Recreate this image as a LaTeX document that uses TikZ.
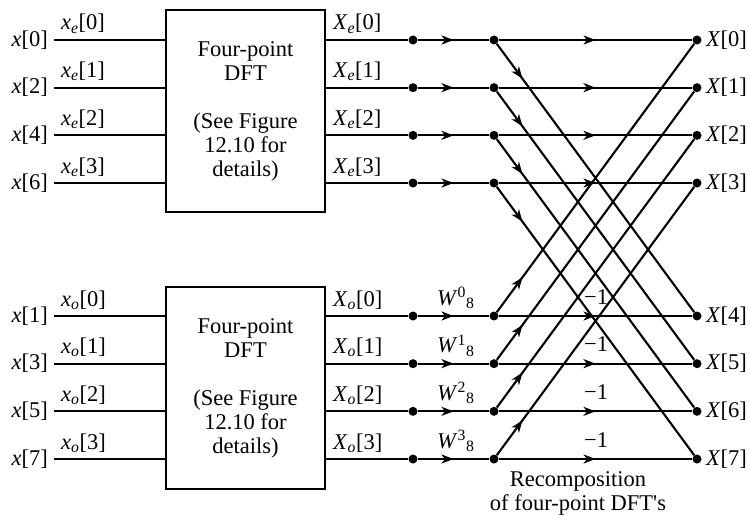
\documentclass[tikz,border=0pt]{standalone}
\usepackage{fontspec}
\setmainfont{Liberation Serif}
\usetikzlibrary{arrows.meta,decorations.markings}
\tikzset{
  sig/.style={line width=2.1pt},
  midarrow/.style={postaction={decorate},decoration={markings,mark=at position #1 with {\arrow{Stealth[length=12pt,width=9pt,inset=3.5pt]}}}},
  dot/.style={circle,fill=black,inner sep=0pt,minimum size=9pt},
  lbl/.style={inner sep=0pt,font=\fontsize{22.5}{24}\selectfont},
  dftbox/.style={draw,line width=1.1pt,minimum width=159pt,minimum height=202pt,align=center,inner sep=0pt,font=\fontsize{22.5}{24}\selectfont},
}
\begin{document}
\begin{tikzpicture}[x=1pt,y=-1pt]
\useasboundingbox (0,0) rectangle (750,516);
\node[dftbox] (E) at (245.5,111) {Four-point\\DFT\\[24pt](See Figure\\12.10 for\\details)};
\node[dftbox] (O) at (245.5,388) {Four-point\\DFT\\[24pt](See Figure\\12.10 for\\details)};
% even half
\foreach \k/\n in {0/0,1/2,2/4,3/6}{
  \pgfmathsetmacro{\yy}{40+47.67*\k}
  \coordinate (ie\k) at (54,\yy);
  \node[lbl,anchor=east] (xe\k) at (48,\yy) {\textit{x}[\n]};
  \node[lbl,anchor=base west] (xel\k) at (61,\yy-10) {\textit{x}\textsubscript{\textit{e}}[\k]};
  \node[lbl,anchor=base west] (Xel\k) at (333,\yy-10) {\textit{X}\textsubscript{\textit{e}}[\k]};
  \node[dot] (pe\k) at (413,\yy) {};
  \node[dot] (qe\k) at (494,\yy) {};
  \node[dot] (r\k) at (697,\yy) {};
  \node[lbl,anchor=west] (out\k) at (706,\yy) {\textit{X}[\k]};
}
% odd half
\foreach \k/\n in {0/1,1/3,2/5,3/7}{
  \pgfmathsetmacro{\yy}{316+47.67*\k}
  \pgfmathtruncatemacro{\m}{\k+4}
  \coordinate (io\k) at (54,\yy);
  \node[lbl,anchor=east] (xo\k) at (48,\yy) {\textit{x}[\n]};
  \node[lbl,anchor=base west] (xol\k) at (61,\yy-10) {\textit{x}\textsubscript{\textit{o}}[\k]};
  \node[lbl,anchor=base west] (Xol\k) at (333,\yy-10) {\textit{X}\textsubscript{\textit{o}}[\k]};
  \node[lbl,anchor=base west] (w\k) at (437,\yy-11) {\textit{W}\textsuperscript{\k}\textsubscript{8}};
  \node[lbl,anchor=base west] (neg\k) at (584,\yy-12) {−1};
  \node[dot] (po\k) at (413,\yy) {};
  \node[dot] (qo\k) at (494,\yy) {};
  \node[dot] (r\m) at (697,\yy) {};
  \node[lbl,anchor=west] (out\m) at (706,\yy) {\textit{X}[\m]};
}
% connectors
\foreach \k in {0,1,2,3}{
  \pgfmathtruncatemacro{\m}{\k+4}
  \draw[sig] (ie\k) -- (ie\k -| E.west);
  \draw[sig] (io\k) -- (io\k -| O.west);
  \draw[sig] (pe\k -| E.east) -- (pe\k);
  \draw[sig] (po\k -| O.east) -- (po\k);
  \draw[sig,midarrow=0.5] (pe\k) -- (qe\k);
  \draw[sig,midarrow=0.5] (po\k) -- (qo\k);
  \draw[sig,midarrow=0.5] (qe\k) -- (r\k);
  \draw[sig,midarrow=0.5] (qo\k) -- (r\m);
  \draw[sig,midarrow=0.13] (qe\k) -- (r\m);
  \draw[sig,midarrow=0.13] (qo\k) -- (r\k);
}
\node[lbl,align=center] (rec) at (578,493) {Recomposition\\of four-point DFT\textquotesingle s};
\end{tikzpicture}
\end{document}
